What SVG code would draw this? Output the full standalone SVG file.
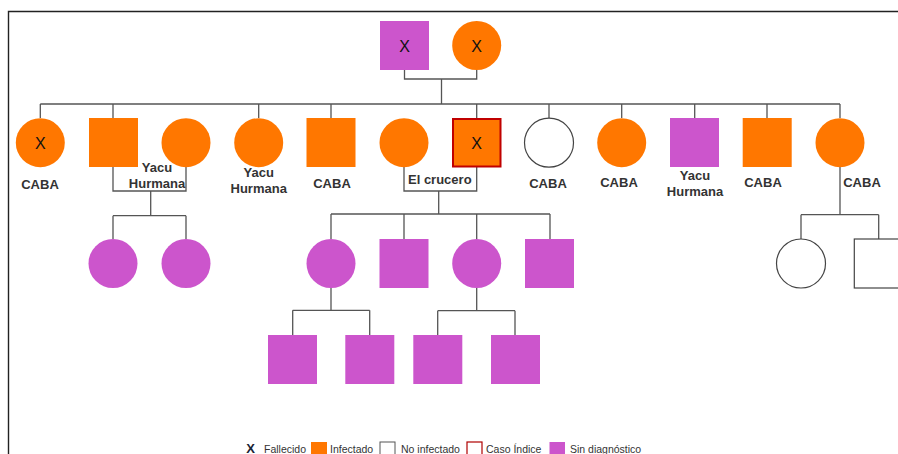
<svg xmlns="http://www.w3.org/2000/svg" width="898" height="454" viewBox="0 0 898 454">
<style>
.inf{fill:#FF7700}
.sd{fill:#CC55CC}
.no{fill:#fff;stroke:#444;stroke-width:1.2}
.idx{fill:#FF7700;stroke:#C00000;stroke-width:2}
.ln{fill:none;stroke:#555;stroke-width:1.3}
.x{font-family:"Liberation Sans",Arial,sans-serif;font-size:16px;fill:#111;text-anchor:middle}
.lb{font-family:"Liberation Sans",Arial,sans-serif;font-size:13px;font-weight:bold;fill:#333;text-anchor:middle}
.lg{font-family:"Liberation Sans",Arial,sans-serif;font-size:10.5px;fill:#333}
</style>
<rect width="898" height="454" fill="#fff"/>
<path d="M8.5,460 V11.5 H905" fill="none" stroke="#222" stroke-width="1.4"/>
<g id="connectors" class="ln">
<path d="M404.5,70 V79 H476.7 V70 M441.5,79 V104"/>
<path d="M40.3,104 H840 M40.3,104 V118 M113,104 V118 M258.7,104 V118 M331,104 V118 M476.7,104 V118 M549,104 V118 M621.7,104 V118 M694.7,104 V118 M767,104 V118 M840,104 V118"/>
<path d="M113,167 V191 H186 V167 M150.7,191 V215.7 M113,215.7 H186 M113,215.7 V239 M186,215.7 V239"/>
<path d="M404,167 V191 H476.7 V167 M438.7,191 V214 M331,214 H550 M331,214 V239 M404,214 V239 M476.7,214 V239 M550,214 V239"/>
<path d="M331,288 V310.3 M292.7,310.3 H369.7 M292.7,310.3 V335 M369.7,310.3 V335"/>
<path d="M476.7,288 V310.7 M437.7,310.7 H515 M437.7,310.7 V335 M515,310.7 V335"/>
<path d="M840,167 V214.7 M801,214.7 H878.7 M801,214.7 V239 M878.7,214.7 V239"/>
</g>
<g id="g1-father"><rect class="sd" x="380" y="21" width="49" height="49"/><text class="x" x="404.5" y="51.5">X</text></g>
<g id="g1-mother"><circle class="inf" cx="476.7" cy="45.5" r="24.5"/><text class="x" x="476.7" y="51.5">X</text></g>
<g id="g2-1"><circle class="inf" cx="40.3" cy="142.7" r="24.5"/><text class="x" x="40.3" y="148.5">X</text><text class="lb" x="40" y="189">CABA</text></g>
<g id="g2-2"><rect class="inf" x="89" y="118" width="49" height="49"/></g>
<g id="g2-2-spouse"><circle class="inf" cx="186" cy="142.7" r="24.5"/><text class="lb" x="157" y="172">Yacu</text><text class="lb" x="157" y="188">Hurmana</text></g>
<g id="g2-3"><circle class="inf" cx="258.7" cy="142.7" r="24.5"/><text class="lb" x="258.7" y="177">Yacu</text><text class="lb" x="258.7" y="193">Hurmana</text></g>
<g id="g2-4"><rect class="inf" x="306.5" y="118" width="49" height="49"/><text class="lb" x="332" y="188">CABA</text></g>
<g id="g2-5-spouse"><circle class="inf" cx="404" cy="142.7" r="24.5"/><text class="lb" x="408" y="184" style="text-anchor:start">El crucero</text></g>
<g id="g2-5"><rect class="idx" x="453" y="119" width="47.5" height="47.5"/><text class="x" x="476.7" y="148.5">X</text></g>
<g id="g2-6"><circle class="no" cx="549" cy="142.7" r="24.5"/><text class="lb" x="548" y="188">CABA</text></g>
<g id="g2-7"><circle class="inf" cx="621.7" cy="142.7" r="24.5"/><text class="lb" x="619" y="187">CABA</text></g>
<g id="g2-8"><rect class="sd" x="670" y="118" width="49" height="49"/><text class="lb" x="695" y="180">Yacu</text><text class="lb" x="695" y="196">Hurmana</text></g>
<g id="g2-9"><rect class="inf" x="742.7" y="118" width="49" height="49"/><text class="lb" x="763" y="187">CABA</text></g>
<g id="g2-10"><circle class="inf" cx="840" cy="142.7" r="24.5"/><text class="lb" x="862" y="187">CABA</text></g>
<g id="g3-1"><circle class="sd" cx="113" cy="263.5" r="24.5"/></g>
<g id="g3-2"><circle class="sd" cx="186" cy="263.5" r="24.5"/></g>
<g id="g3-3"><circle class="sd" cx="331" cy="263.5" r="24.5"/></g>
<g id="g3-4"><rect class="sd" x="379.5" y="239" width="49" height="49"/></g>
<g id="g3-5"><circle class="sd" cx="476.7" cy="263.5" r="24.5"/></g>
<g id="g3-6"><rect class="sd" x="525" y="239" width="49" height="49"/></g>
<g id="g3-7"><circle class="no" cx="801" cy="263.5" r="24.5"/></g>
<g id="g3-8"><rect class="no" x="854.3" y="239" width="49" height="49"/></g>
<g id="g4-1"><rect class="sd" x="268" y="335" width="49" height="49"/></g>
<g id="g4-2"><rect class="sd" x="345.3" y="335" width="49" height="49"/></g>
<g id="g4-3"><rect class="sd" x="413.3" y="335" width="49" height="49"/></g>
<g id="g4-4"><rect class="sd" x="491" y="335" width="49" height="49"/></g>
<g id="legend">
<text x="250.5" y="452.5" style="font-family:'Liberation Sans',Arial,sans-serif;font-size:13px;font-weight:bold;fill:#1a2233;text-anchor:middle">X</text>
<text class="lg" x="264" y="452.5">Fallecido</text>
<rect class="inf" x="311" y="442" width="16" height="14"/>
<text class="lg" x="330" y="452.5">Infectado</text>
<rect x="380" y="442" width="15" height="14" fill="#fff" stroke="#555" stroke-width="1"/>
<text class="lg" x="401" y="452.5">No infectado</text>
<rect x="467" y="442" width="15" height="14" fill="#fff" stroke="#B00000" stroke-width="1.2"/>
<text class="lg" x="486" y="452.5">Caso Índice</text>
<rect class="sd" x="549.5" y="442" width="15.5" height="14"/>
<text class="lg" x="570" y="452.5">Sin diagnóstico</text>
</g>
</svg>
